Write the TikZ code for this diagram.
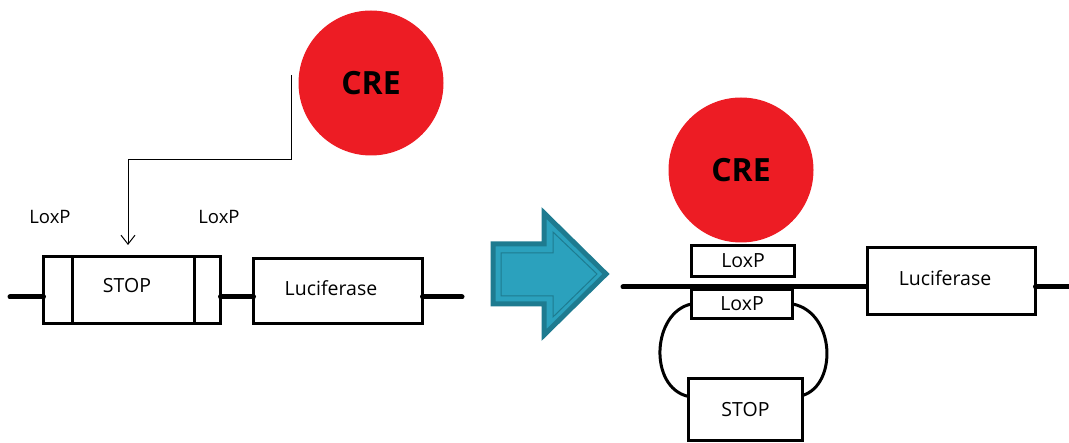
\documentclass[tikz,border=0pt]{standalone}
\usepackage{fontspec}
\setmainfont{Open Sans}
\usetikzlibrary{arrows.meta, positioning}
\definecolor{creRed}{HTML}{ED1C24}
\definecolor{shiftFill}{HTML}{2BA1BD}
\definecolor{shiftEdge}{HTML}{1E7B90}
\tikzset{
  geneBox/.style = {rectangle, draw=black, line width=3pt, fill=white,
    inner sep=0pt, outer sep=0pt, align=center,
    font=\fontsize{19.5}{21}\selectfont},
  loxLabel/.style = {inner sep=0pt, font=\fontsize{18.5}{20}\selectfont},
  creBall/.style = {circle, fill=creRed, minimum size=145pt, inner sep=0pt,
    font=\fontsize{32}{34}\selectfont\bfseries},
  dnaLine/.style = {line width=5pt, line cap=round},
  loopLine/.style = {line width=3pt},
  cutArrow/.style = {-{Straight Barb[length=9pt, width=14pt]}, line width=1pt},
  shiftArrow/.style = {fill=shiftFill, draw=shiftEdge, line width=5pt, line join=miter},
}

\begin{document}
\begin{tikzpicture}[x=1pt, y=-1pt]
\useasboundingbox (0,0) rectangle (1069,443);

% before
\node[creBall] (creL) at (371,83) {CRE};
\node[geneBox, minimum width=28.5pt, minimum height=67pt] (loxLeft) at (57.75,290.5) {};
\node[geneBox, right=0pt of loxLeft, minimum width=122pt, minimum height=67pt] (stopLeft) {};
\node[inner sep=0pt, font=\fontsize{19.5}{21}\selectfont] (stopTextL) at (127,286) {STOP};
\node[loxLabel] (loxLabelA) at (50,217) {LoxP};
\node[loxLabel] (loxLabelB) at (219,217) {LoxP};
\node[geneBox, right=0pt of stopLeft, minimum width=26.5pt, minimum height=67pt] (loxRight) {};
\node[geneBox, minimum width=169pt, minimum height=65pt] (lucLeft) at (338,291) {};
\node[inner sep=0pt, font=\fontsize{19.5}{21}\selectfont] (lucTextL) at (331,288) {Luciferase};

\coordinate (dnaStartL) at (10,297);
\coordinate (dnaEndL) at (462,297);
\draw[dnaLine] (dnaStartL) -- (dnaStartL -| loxLeft.west);
\draw[dnaLine] (dnaStartL -| loxRight.east) -- (dnaStartL -| lucLeft.west);
\draw[dnaLine] (dnaStartL -| lucLeft.east) -- (dnaEndL);

\coordinate (cutStart) at (291,75);
\coordinate (cutBend) at (291,160);
\coordinate (cutEnd) at (128,245);
\draw[cutArrow] (cutStart) -- (cutBend) -| (cutEnd);

% shift arrow
\draw[shiftArrow] (493,244) -- (544,244) -- (544,213) -- (606,274) -- (544,335)
  -- (544,304) -- (493,304) -- cycle;
\draw[draw=shiftEdge, line width=1pt] (501,253) -- (553,253) -- (553,232) -- (597,274)
  -- (553,317) -- (553,296) -- (501,296) -- cycle;

% after
\coordinate (dnaStartR) at (623,287);
\coordinate (dnaEndR) at (1075,287);
\draw[dnaLine] (dnaStartR) -- (951,287);
\node[creBall] (creR) at (741,170) {CRE};
\node[geneBox, minimum width=103pt, minimum height=31pt] (loxUp) at (743,261) {LoxP};
\node[geneBox, minimum width=101pt, minimum height=29pt] (loxLow) at (742,304) {LoxP};
\node[geneBox, minimum width=168pt, minimum height=67pt] (lucRight) at (951.5,281) {};
\node[inner sep=0pt, font=\fontsize{19.5}{21}\selectfont] (lucTextR) at (945,278) {Luciferase};
\node[geneBox, minimum width=114pt, minimum height=62pt] (stopRight) at (745.5,409.5) {STOP};
\draw[dnaLine] (dnaStartR -| lucRight.east) -- (dnaEndR);

\draw[loopLine] (loxLow.west) .. controls +(-39.5,8) and +(-40.5,-9) .. ([yshift=-18pt]stopRight.north west);
\draw[loopLine] (loxLow.east) .. controls +(42.5,8) and +(35.5,-11) .. ([yshift=-17pt]stopRight.north east);

\end{tikzpicture}
\end{document}
